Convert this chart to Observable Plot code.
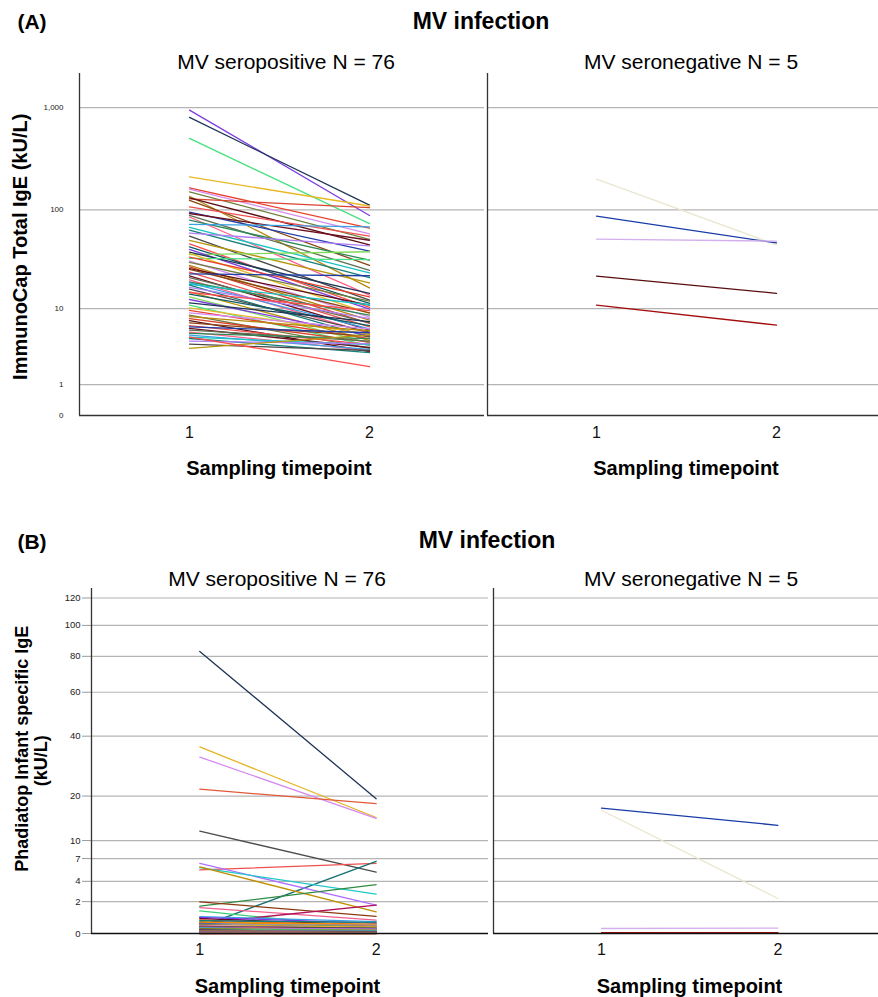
<!DOCTYPE html>
<html>
<head>
<meta charset="utf-8">
<script src="https://cdn.jsdelivr.net/npm/d3@7"></script>
<script src="https://cdn.jsdelivr.net/npm/@observablehq/plot@0.6"></script>
<style>
  body { margin: 0; background: #fff; }
  #root { position: relative; width: 878px; height: 997px; overflow: hidden;
          font-family: "Liberation Sans", Arial, sans-serif; color: #000; }
  .t { position: absolute; white-space: nowrap; line-height: 1; text-align: center; }
  .w { position: absolute; }
</style>
</head>
<body>
<div id="root"></div>
<script>
// ---------------- DATA ----------------
const timepoints = [1, 2];
const yTicksA = [0, 1, 10, 100, 1000];
const yTicksB = [0, 2, 4, 7, 10, 20, 40, 60, 80, 100, 120];

// (A) ImmunoCap Total IgE, MV seropositive (N = 76): timepoint 1 and 2
const capPosT1 = [945, 802, 500, 211, 164, 160, 150, 136, 128, 131, 124, 107, 95, 92, 88, 85, 79, 72, 67, 63,
  59, 55, 50, 46, 43, 36, 40.5, 38, 33, 37, 34, 31, 30, 28, 27, 26, 25.5, 24, 23, 22,
  21, 20, 19, 18.6, 18, 17.6, 16.7, 16, 15, 14.8, 14.2, 13.3, 12.5, 11.5, 10.9, 10.2, 9.6, 9, 8.5, 8.2,
  7.8, 7.4, 7, 6.5, 6.3, 6.05, 5.8, 5.5, 5.3, 5.06, 4.8, 4.63, 4.3, 3.95, 3.5, 4.8];
const capPosT2 = [88, 111, 73, 109, 66, 58, 51, 16.5, 105, 45, 28, 55, 39, 50, 25, 13.9, 31.6, 68, 23.5, 21,
  44, 12.3, 18.6, 10.3, 11.4, 38.4, 9.9, 14.5, 32, 8.9, 13.3, 8.1, 12, 7.5, 6.9, 10.9, 9, 6.3, 22, 5.8,
  7, 5.3, 8.5, 6, 11, 4.8, 7.8, 5.5, 4.4, 9.5, 6.5, 4.1, 5, 7.2, 3.8, 5.2, 4.6, 6, 3.5, 5.7,
  4.2, 3.2, 4.9, 3.9, 5.4, 3.6, 4.3, 3.3, 4.6, 3.4, 3.9, 3.1, 4.0, 3.3, 5.1, 2.0];
// (A) MV seronegative (N = 5)
const capNegT1 = [200, 86.6, 51.3, 21.8, 10.9];
const capNegT2 = [45, 47, 49, 14.5, 6.6];

// (B) Phadiatop Infant specific IgE, MV seropositive (N = 76)
const phaPosT1 = [83, 35.8, 32.1, 21.9, 11.8, 5.4, 0.31, 6.3, 5.7, 5.8, 1.63, 1.98, 1.53, 1.28, 0.5, 0.78,
  0.9, 0.85, 0.7, 0.65, 0.6, 0.55, 0.5, 0.45, 0.42, 0.4, 0.38, 0.35, 0.33, 0.3, 0.28,
  0.26, 0.25, 0.22, 0.2, 0.19, 0.18, 0.17, 0.16, 0.15, 0.14, 0.13, 0.12, 0.11, 0.1, 0.1,
  0.09, 0.08, 0.08, 0.07, 0.07, 0.06, 0.06, 0.05, 0.05, 0.05, 0.04, 0.04, 0.04, 0.03, 0.03,
  0.03, 0.02, 0.02, 0.02, 0.02, 0.01, 0.01, 0.01, 0.01, 0.01, 0, 0, 0, 0, 0];
const phaPosT2 = [19.3, 14.7, 14.5, 18.0, 5.1, 6.3, 6.6, 1.71, 2.66, 1.21, 3.64, 0.92, 0.68, 0.23, 1.71, 0.4,
  0.6, 0.5, 0.35, 0.55, 0.3, 0.45, 0.25, 0.4, 0.2, 0.3, 0.22, 0.15, 0.25, 0.18, 0.12,
  0.2, 0.1, 0.15, 0.12, 0.08, 0.1, 0.14, 0.06, 0.09, 0.1, 0.05, 0.08, 0.04, 0.07, 0.05,
  0.06, 0.03, 0.05, 0.04, 0.03, 0.05, 0.02, 0.03, 0.04, 0.02, 0.03, 0.02, 0.01, 0.02, 0.03,
  0.01, 0.02, 0.01, 0.01, 0.02, 0.01, 0, 0.01, 0, 0.01, 0, 0.01, 0, 0, 0];
// (B) MV seronegative (N = 5)
const phaNegT1 = [16.4, 16.9, 0.23, 0.02, 0.04];
const phaNegT2 = [2.27, 13.0, 0.25, 0.02, 0.04];

// ---------------- STYLES ----------------
const paletteA = ["#7d3ce0", "#1d3557", "#45e07f", "#e8b923", "#e8412c", "#d48af0", "#6e7f3c", "#b8860b",
  "#d9432f", "#5b0e12", "#8b4513", "#f04e4e", "#1f3fa6", "#6b1020", "#5f6f52", "#ff5f8a", "#2e8b57",
  "#3aa0e6", "#19c3c3", "#16807a", "#b07cf5", "#4a4a4a", "#b8960b", "#ff4a4a", "#0d5c63", "#7ed957"];
const paletteB = ["#1d3557", "#e6b422", "#d68af0", "#e05a3a", "#4d4d4d", "#f05050", "#167070", "#b070ff",
  "#20c8c8", "#c09000", "#2e8b40", "#8b3a0f", "#f06090", "#3ccf7a", "#b0105a", "#5a0a1a",
  "#3aa0e6", "#7d3ce0", "#e8412c", "#16807a", "#6e7f3c", "#ff8c00", "#1f3fa6", "#999999"];
const paletteNeg = ["#ebe6cf", "#1a3ca8", "#d2b0ee", "#5a0c0c", "#a30d0d"];

const g = v => Math.pow(1 + v, 0.4) - 1;          // safe power transform (exp 0.4)
const gInv = u => Math.pow(1 + u, 2.5) - 1;

function longData(t1, t2, pal) {
  return t1.flatMap((v, i) => [
    {id: i, t: 1, v: v, col: pal[i % pal.length]},
    {id: i, t: 2, v: t2[i], col: pal[i % pal.length]}
  ]);
}

const root = document.getElementById("root");
function place(el, left, top) {
  const w = document.createElement("div");
  w.className = "w"; w.style.left = left + "px"; w.style.top = top + "px";
  w.appendChild(el); root.appendChild(w);
}
function text(str, cx, cy, fs, bold, rotate) {
  const d = document.createElement("div");
  d.className = "t";
  d.textContent = str;
  d.style.fontSize = fs + "px";
  d.style.fontWeight = bold ? "bold" : "normal";
  const W = 500;
  d.style.width = W + "px";
  d.style.left = (cx - W / 2) + "px";
  d.style.top = (cy - 0.4885 * fs) + "px";
  if (rotate) { d.style.transform = "rotate(-90deg)"; d.style.transformOrigin = "50% " + (0.4885 * fs) + "px"; }
  root.appendChild(d);
}

const fontStyle = {background: "transparent", overflow: "visible",
  fontFamily: "'Liberation Sans', Arial, sans-serif"};
const intFmt = d => String(d);

function panelA(t1, t2, pal, opts) {
  return Plot.plot({
    width: opts.width, height: 380,
    marginLeft: opts.ml, marginRight: 0, marginTop: 8, marginBottom: 30,
    style: fontStyle,
    x: {domain: opts.xd, axis: null},
    y: {type: "symlog", constant: 1, domain: [0, 2150], axis: null},
    color: {type: "identity"},
    marks: [
      Plot.ruleY(yTicksA.slice(1), {stroke: "#b4b4b4", strokeWidth: 1.2}),
      opts.yaxis ? Plot.axisY(yTicksA, {tickSize: 0, tickPadding: 16, fontSize: 8,
        tickFormat: d3.format(","), label: null, fill: "#222"}) : null,
      Plot.axisX(timepoints, {tickSize: 0, tickPadding: 11, fontSize: 16, label: null, fill: "#111", tickFormat: intFmt}),
      Plot.line(longData(t1, t2, pal), {x: "t", y: "v", z: "id", stroke: "col", strokeWidth: 1.3}),
      Plot.ruleX([opts.xd[0]], {stroke: "#333", strokeWidth: 1.3}),
      Plot.ruleY([0], {stroke: "#333", strokeWidth: 1.3})
    ]
  });
}

function panelB(t1, t2, pal, opts) {
  return Plot.plot({
    width: opts.width, height: 383,
    marginLeft: opts.ml, marginRight: 0, marginTop: 8, marginBottom: 30,
    style: fontStyle,
    x: {domain: opts.xd, axis: null},
    y: {type: "linear", domain: [0, 5.974], axis: null},
    color: {type: "identity"},
    marks: [
      Plot.ruleY(yTicksB.slice(1).map(g), {stroke: "#b4b4b4", strokeWidth: 1.2}),
      opts.yaxis ? Plot.axisY(yTicksB.map(g), {tickSize: 9, tickPadding: 2, fontSize: 9.5,
        tickFormat: u => String(Math.round(gInv(u))), label: null, fill: "#222", stroke: "#999"}) : null,
      Plot.axisX(timepoints, {tickSize: 0, tickPadding: 10, fontSize: 16, label: null, fill: "#111", tickFormat: intFmt}),
      Plot.line(longData(t1, t2, pal), {x: "t", y: d => g(d.v), z: "id", stroke: "col", strokeWidth: 1.3}),
      Plot.ruleX([opts.xd[0]], {stroke: "#333", strokeWidth: 1.3}),
      Plot.ruleY([0], {stroke: "#111", strokeWidth: 1.5})
    ]
  });
}

// ---------------- PANEL A ----------------
place(panelA(capPosT1, capPosT2, paletteA, {width: 484, ml: 79, xd: [0.3889, 2.6389], yaxis: true}), 0, 65);
place(panelA(capNegT1, capNegT2, paletteNeg, {width: 391, ml: 0, xd: [0.3944, 2.5667], yaxis: false}), 487, 65);

// ---------------- PANEL B ----------------
place(panelB(phaPosT1, phaPosT2, paletteB, {width: 488, ml: 91, xd: [0.386, 2.637], yaxis: true}), 0, 580);
place(panelB(phaNegT1, phaNegT2, paletteNeg, {width: 385, ml: 0, xd: [0.3878, 2.5703], yaxis: false}), 493, 580);

// ---------------- TEXT ----------------
text("(A)", 32, 21.5, 21, true);
text("MV infection", 481, 21.3, 23, true);
text("MV seropositive N = 76", 286, 61, 21, false);
text("MV seronegative N = 5", 691, 61, 21, false);
text("Sampling timepoint", 279, 468, 20, true);
text("Sampling timepoint", 686, 468, 20, true);
text("ImmunoCap Total IgE (kU/L)", 20, 247, 20, true, true);

text("(B)", 32, 541, 21, true);
text("MV infection", 487, 540, 23, true);
text("MV seropositive N = 76", 277, 578, 21, false);
text("MV seronegative N = 5", 691, 578, 21, false);
text("Sampling timepoint", 287.5, 986, 20, true);
text("Sampling timepoint", 689.5, 986, 20, true);
text("Phadiatop Infant specific IgE", 22, 749, 18, true, true);
text("(kU/L)", 41, 761, 18, true, true);
</script>
</body>
</html>
